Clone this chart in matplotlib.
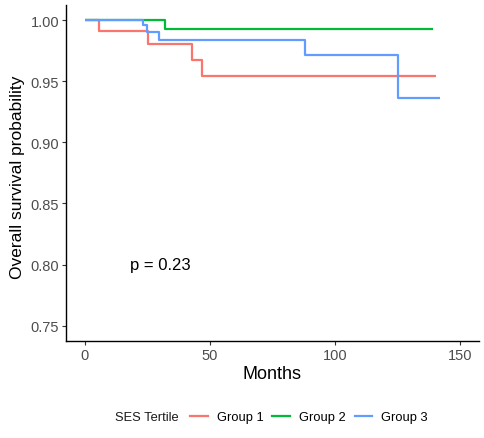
import matplotlib.pyplot as plt
from matplotlib.lines import Line2D

plt.rcParams['font.family'] = ['Liberation Sans', 'DejaVu Sans']

# Kaplan-Meier step values (months, survival)
g1_months = [0, 5.7, 25.3, 42.8, 46.8, 140.3]
g1_surv = [1.0, 0.9907, 0.9800, 0.9670, 0.9545, 0.9545]
g2_months = [0, 32.0, 139.0]
g2_surv = [1.0, 0.9924, 0.9924]
g3_months = [0, 23.3, 24.9, 29.7, 88.0, 125.0, 142.0]
g3_surv = [1.0, 0.9959, 0.9900, 0.9836, 0.9716, 0.9366, 0.9366]

group_labels = ['Group 1', 'Group 2', 'Group 3']
group_colors = ['#F8766D', '#00BA38', '#619CFF']
x_ticks = [0, 50, 100, 150]
y_ticks = [0.75, 0.80, 0.85, 0.90, 0.95, 1.00]
p_text = 'p = 0.23'

W, H = 485, 439
fig = plt.figure(figsize=(W / 100, H / 100), dpi=100)
ax = fig.add_axes([66 / W, 1 - 342 / H, (479 - 66) / W, (342 - 5.75) / H])

series = [(g1_months, g1_surv), (g2_months, g2_surv), (g3_months, g3_surv)]
for (t, s), c in zip(series, group_colors):
    ax.plot(t, s, drawstyle='steps-post', color=c, lw=1.6, solid_capstyle='butt')

ax.set_xlim(-7.5, 157.5)
ax.set_ylim(0.7375, 1.0125)
ax.set_xticks(x_ticks)
ax.set_yticks(y_ticks)
ax.set_yticklabels([f'{v:.2f}' for v in y_ticks])

for side in ['top', 'right']:
    ax.spines[side].set_visible(False)
for side in ['left', 'bottom']:
    ax.spines[side].set_linewidth(1.0)
    ax.spines[side].set_color('black')
ax.tick_params(length=3, width=0.8, color='#333333', pad=2,
               labelsize=10.5, labelcolor='#4D4D4D')

ax.set_xlabel('Months', fontsize=13)
ax.set_ylabel('Overall survival probability', fontsize=12.5)
ax.xaxis.set_label_coords(0.5, -(366 - 342) / (342 - 5.75))
ax.yaxis.set_label_coords(-(66 - 25) / (479 - 66), 0.49)

ax.text(30, 0.80, p_text, fontsize=12, ha='center', va='center')

# legend along the bottom, title to the left
fig.text(115 / W, 1 - 418 / H, 'SES Tertile', fontsize=9.3,
         ha='left', va='center', color='#1a1a1a')
handles = [Line2D([], [], color=c, lw=1.6) for c in group_colors]
fig.legend(handles, group_labels, loc='center', ncol=3,
           bbox_to_anchor=(309 / W, 1 - 418 / H), frameon=False,
           fontsize=9.3, handlelength=1.35, handletextpad=0.7,
           columnspacing=0.7, borderpad=0)

fig.savefig('out.png', dpi=100)
